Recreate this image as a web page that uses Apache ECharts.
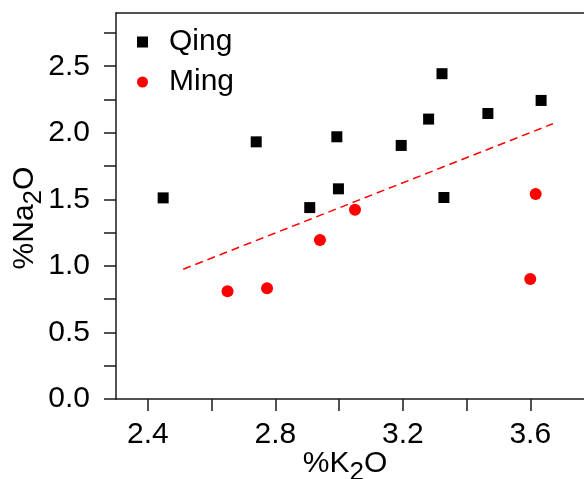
<!DOCTYPE html>
<html>
<head>
<meta charset="utf-8">
<script src="https://cdn.jsdelivr.net/npm/echarts@6/dist/echarts.min.js"></script>
<style>
  html, body { margin: 0; padding: 0; background: #fff; }
  #chart { width: 584px; height: 479px; }
</style>
</head>
<body>
<div id="chart"></div>
<script>
// Qing samples: [%K2O, %Na2O]
const qing = [
    [2.448, 1.511], [2.740, 1.932], [2.908, 1.438], [2.993, 1.970],
    [2.998, 1.579], [3.195, 1.905], [3.281, 2.103], [3.323, 2.444],
    [3.329, 1.514], [3.467, 2.145], [3.634, 2.243]
];
// Ming samples
const ming = [
    [2.650, 0.810], [2.774, 0.832], [2.940, 1.195], [3.050, 1.421],
    [3.600, 0.902], [3.617, 1.541]
];
// dashed fit line end points
const fitLine = [[2.511, 0.975], [3.671, 2.068]];

const xTicks = [2.4, 2.6, 2.8, 3.0, 3.2, 3.4, 3.6, 3.8];
const xLabels = [2.4, 2.8, 3.2, 3.6];
const yTicks = [0, 0.25, 0.5, 0.75, 1.0, 1.25, 1.5, 1.75, 2.0, 2.25, 2.5, 2.75];
const yLabels = [0, 0.5, 1.0, 1.5, 2.0, 2.5];

const font = '"Liberation Sans", Arial, sans-serif';
const axisColor = '#1a1a1a';

const chartDom = document.getElementById('chart');
const myChart = echarts.init(chartDom);

const option = {
    animation: false,
    backgroundColor: '#fff',
    grid: {
        left: 116,
        right: -10,
        top: 13,
        bottom: 80,
        outerBoundsMode: 'none',
        containLabel: false
    },
    legend: {
        orient: 'vertical',
        left: 132,
        top: 22,
        itemWidth: 11,
        itemHeight: 11,
        itemGap: 10,
        textStyle: {
            fontFamily: font,
            fontSize: 30,
            color: '#000',
            padding: [0, 0, 0, 16]
        },
        data: [
            { name: 'Qing', icon: 'rect' },
            { name: 'Ming', icon: 'circle' }
        ]
    },
    xAxis: [
        {
            type: 'value',
            min: 2.3,
            max: 3.8,
            splitLine: { show: false },
            axisLine: { show: true, onZero: false, lineStyle: { color: axisColor, width: 1.5 } },
            axisTick: { show: true, length: 12, customValues: xTicks, lineStyle: { color: axisColor, width: 1.5 } },
            axisLabel: {
                customValues: xLabels,
                margin: 21,
                fontFamily: font,
                fontSize: 30,
                color: '#000',
                formatter: (v) => v.toFixed(1)
            },
            name: '{a|%K}{b|2}{a|O}',
            nameLocation: 'middle',
            nameGap: 43,
            nameMoveOverlap: false,
            nameTextStyle: {
                padding: [0, 20, 0, 0],
                rich: {
                    a: { fontFamily: font, fontSize: 30, color: '#000' },
                    b: { fontFamily: font, fontSize: 26, color: '#000', padding: [18, 0, 0, 0] }
                }
            }
        },
        {
            // top border of the frame
            type: 'value',
            position: 'top',
            min: 2.3,
            max: 3.8,
            splitLine: { show: false },
            axisLine: { show: true, onZero: false, lineStyle: { color: axisColor, width: 1.5 } },
            axisTick: { show: false },
            axisLabel: { show: false }
        }
    ],
    yAxis: {
        type: 'value',
        min: 0,
        max: 2.9,
        splitLine: { show: false },
        axisLine: { show: true, onZero: false, lineStyle: { color: axisColor, width: 1.5 } },
        axisTick: { show: true, length: 12, customValues: yTicks, lineStyle: { color: axisColor, width: 1.5 } },
        axisLabel: {
            customValues: yLabels,
            margin: 26,
            fontFamily: font,
            fontSize: 30,
            color: '#000',
            formatter: (v) => v.toFixed(1)
        },
        name: '{a|%Na}{b|2}{a|O}',
        nameLocation: 'middle',
        nameRotate: 90,
        nameGap: 69,
        nameMoveOverlap: false,
        nameTextStyle: {
            padding: [0, 24, 0, 0],
            rich: {
                a: { fontFamily: font, fontSize: 30, color: '#000' },
                b: { fontFamily: font, fontSize: 26, color: '#000', padding: [18, 0, 0, 0] }
            }
        }
    },
    series: [
        {
            name: 'Qing',
            type: 'scatter',
            symbol: 'rect',
            symbolSize: 11,
            itemStyle: { color: '#000', opacity: 1 },
            data: qing
        },
        {
            name: 'Ming',
            type: 'scatter',
            symbol: 'circle',
            symbolSize: 12,
            itemStyle: { color: '#ff0000', opacity: 1 },
            data: ming
        },
        {
            name: 'fit',
            type: 'line',
            showSymbol: false,
            symbol: 'none',
            lineStyle: { color: '#ff0000', width: 1.5, type: [8, 5] },
            data: fitLine
        }
    ]
};

option && myChart.setOption(option);
</script>
</body>
</html>
